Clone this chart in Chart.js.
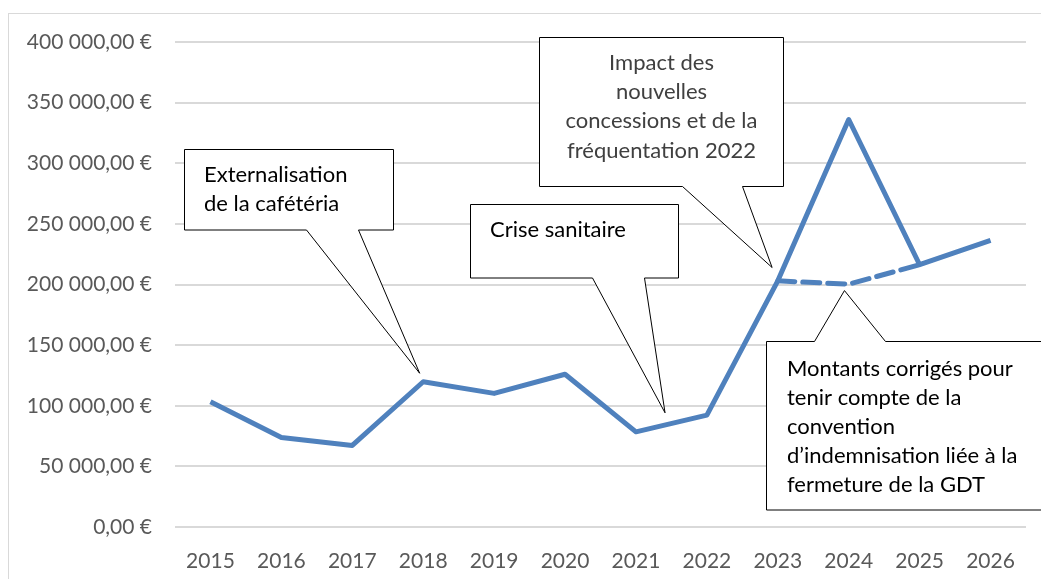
<html>
  <head>
    <script src="https://cdn.jsdelivr.net/npm/chart.js@4"></script>
    <style>
      body { margin: 0; background: #fff; }
    </style>
  </head>
  <body>
    <div style="width:1041px;height:579px;position:relative">
      <canvas id="chart"></canvas>
    </div>
    <script>
      // data
      const years = ['2015', '2016', '2017', '2018', '2019', '2020', '2021', '2022', '2023', '2024', '2025', '2026'];
      const montants = [103300, 73900, 67300, 119800, 110200, 126000, 78500, 92300, 203000, 336100, 216300, 236400];
      const montantsCorriges = [null, null, null, null, null, null, null, null, 203000, 200300, 216300, null];
      const yMin = 0, yMax = 400000, yStep = 50000;

      const blue = '#4f81bd';
      const font = 'Lato';

      // callouts: box in pixels, wedge tip in data coordinates (category index, value)
      const callouts = [
        { text: ['Externalisation', 'de la cafétéria'], box: [184.5, 149.5, 209, 80.5], side: 'bottom',
          base: [306.5, 358.5], tip: [2.95, 126800], align: 'left', textX: 204, textY: 175, color: '#000' },
        { text: ['Crise sanitaire'], box: [470.5, 204.5, 208, 73.5], side: 'bottom',
          base: [592.5, 644.5], tip: [6.41, 94200], align: 'left', textX: 490, textY: 230, color: '#000' },
        { text: ['Impact des', 'nouvelles', 'concessions et de la', 'fréquentation 2022'], box: [539.5, 37.5, 244, 149], side: 'bottom',
          base: [682.5, 742.5], tip: [7.92, 214000], align: 'center', textX: 661.5, textY: 63, color: '#404040' },
        { text: ['Montants corrigés pour', 'tenir compte de la', 'convention', 'd’indemnisation liée à la', 'fermeture de la GDT'],
          box: [766.5, 341.5, 300, 168.5], side: 'top',
          base: [814.5, 885.5], tip: [8.94, 195000], align: 'left', textX: 787, textY: 368.5, color: '#000' }
      ];

      function euro(v) {
        const s = Math.round(v).toString().replace(/\B(?=(\d{3})+(?!\d))/g, ' ');
        return s + ',00 €';
      }

      const frame = {
        id: 'frame',
        beforeDraw(chart) {
          const ctx = chart.ctx;
          ctx.save();
          ctx.fillStyle = '#fff';
          ctx.fillRect(0, 0, chart.width, chart.height);
          ctx.strokeStyle = '#d9d9d9';
          ctx.lineWidth = 1;
          ctx.strokeRect(8.5, 13.5, chart.width + 20, chart.height + 20);
          ctx.restore();
        }
      };

      const calloutPlugin = {
        id: 'callouts',
        afterDatasetsDraw(chart) {
          const ctx = chart.ctx;
          const xs = chart.scales.x, ys = chart.scales.y;
          ctx.save();
          callouts.forEach(c => {
            const [bx, by, bw, bh] = c.box;
            const tx = xs.getPixelForValue(c.tip[0]);
            const ty = ys.getPixelForValue(c.tip[1]);
            ctx.beginPath();
            if (c.side === 'bottom') {
              ctx.moveTo(bx, by);
              ctx.lineTo(bx + bw, by);
              ctx.lineTo(bx + bw, by + bh);
              ctx.lineTo(c.base[1], by + bh);
              ctx.lineTo(tx, ty);
              ctx.lineTo(c.base[0], by + bh);
              ctx.lineTo(bx, by + bh);
            } else {
              ctx.moveTo(bx, by);
              ctx.lineTo(c.base[0], by);
              ctx.lineTo(tx, ty);
              ctx.lineTo(c.base[1], by);
              ctx.lineTo(bx + bw, by);
              ctx.lineTo(bx + bw, by + bh);
              ctx.lineTo(bx, by + bh);
            }
            ctx.closePath();
            ctx.fillStyle = '#fff';
            ctx.fill();
            ctx.strokeStyle = '#000';
            ctx.lineWidth = 1;
            ctx.stroke();

            ctx.fillStyle = c.color;
            ctx.font = '22px ' + font;
            ctx.textAlign = c.align;
            ctx.textBaseline = 'middle';
            c.text.forEach((line, k) => {
              ctx.fillText(line, c.textX, c.textY + k * 29.2);
            });
          });
          ctx.restore();
        }
      };

      new Chart(document.getElementById('chart'), {
        type: 'line',
        data: {
          labels: years,
          datasets: [
            {
              label: 'Montants corrigés',
              data: montantsCorriges,
              borderColor: blue,
              borderWidth: 5,
              borderDash: [17, 8],
              borderCapStyle: 'round',
              pointRadius: 0,
              tension: 0,
              spanGaps: false
            },
            {
              label: 'Montants',
              data: montants,
              borderColor: blue,
              borderWidth: 5,
              borderJoinStyle: 'round',
              pointRadius: 0,
              tension: 0
            }
          ]
        },
        options: {
          responsive: true,
          maintainAspectRatio: false,
          animation: false,
          layout: { padding: { left: 0, right: 15, top: 42, bottom: 0 } },
          plugins: {
            legend: { display: false },
            tooltip: { enabled: false }
          },
          scales: {
            x: {
              offset: true,
              grid: { display: false },
              border: { display: false },
              ticks: { color: '#595959', font: { family: font, size: 21 }, padding: 14, maxRotation: 0 },
              afterFit(scale) { scale.height = 52; }
            },
            y: {
              min: yMin,
              max: yMax,
              grid: { color: '#d9d9d9', lineWidth: 2, drawTicks: false },
              border: { display: false },
              ticks: {
                stepSize: yStep,
                color: '#595959',
                font: { family: font, size: 21 },
                padding: 23,
                callback: v => euro(v)
              },
              afterFit(scale) { scale.width = 175; }
            }
          }
        },
        plugins: [frame, calloutPlugin]
      });
    </script>
  </body>
</html>
